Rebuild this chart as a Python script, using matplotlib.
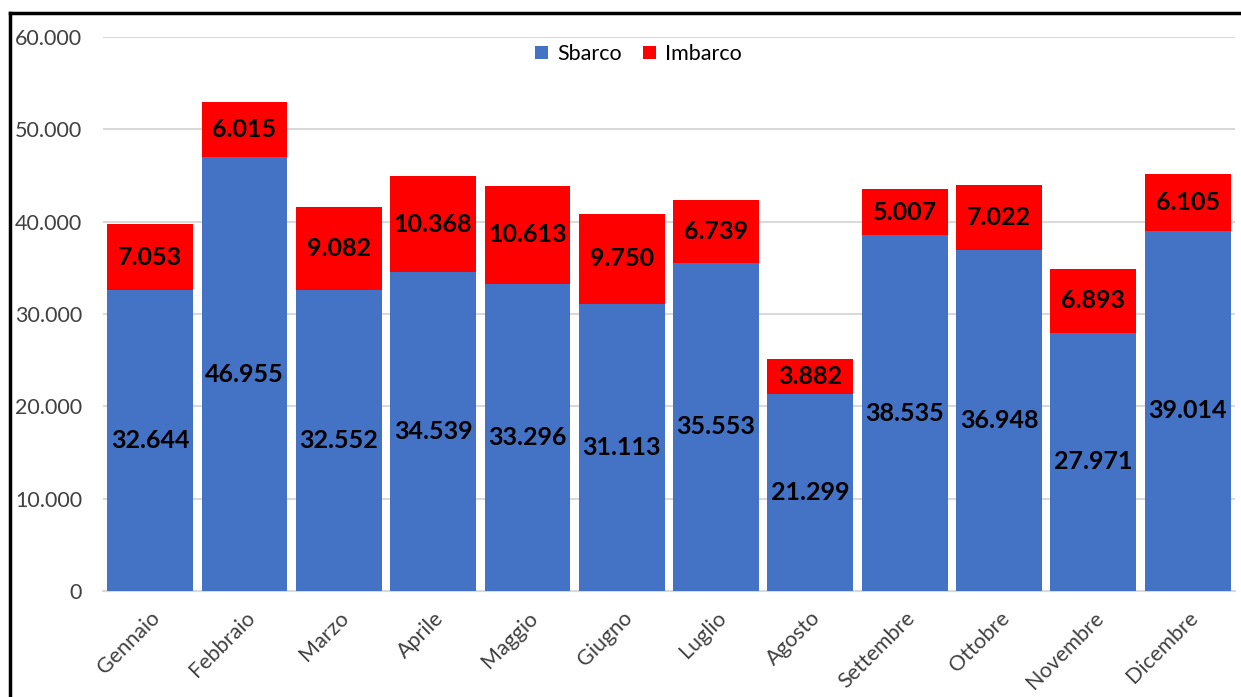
import matplotlib.pyplot as plt
from matplotlib.lines import Line2D

# dati mensili
mesi = ["Gennaio", "Febbraio", "Marzo", "Aprile", "Maggio", "Giugno",
        "Luglio", "Agosto", "Settembre", "Ottobre", "Novembre", "Dicembre"]
sbarco = [32644, 46955, 32552, 34539, 33296, 31113, 35553, 21299, 38535, 36948, 27971, 39014]
imbarco = [7053, 6015, 9082, 10368, 10613, 9750, 6739, 3882, 5007, 7022, 6893, 6105]
yticks = [0, 10000, 20000, 30000, 40000, 50000, 60000]


def fmt(v):
    return f"{v:,}".replace(",", ".")


plt.rcParams['font.family'] = ['Lato', 'DejaVu Sans']

fig = plt.figure(figsize=(12.41, 6.97), dpi=100)
ax = fig.add_axes([0.083, 0.152, 0.912, 0.795])

x = range(len(mesi))
b1 = ax.bar(x, sbarco, width=0.91, color='#4472C4', label='Sbarco', zorder=3)
b2 = ax.bar(x, imbarco, width=0.91, bottom=sbarco, color='#FF0000', label='Imbarco', zorder=3)

for i in x:
    ax.text(i, sbarco[i] / 2, fmt(sbarco[i]), ha='center', va='center',
            fontsize=18, fontweight='bold', color='black', zorder=4)
    ax.text(i, sbarco[i] + imbarco[i] / 2, fmt(imbarco[i]), ha='center', va='center',
            fontsize=18, fontweight='bold', color='black', zorder=4)

ax.set_xlim(-0.5, len(mesi) - 0.5)
ax.set_ylim(0, 60000)
ax.set_yticks(yticks)
ax.set_yticklabels([fmt(v) for v in yticks], fontsize=15.5, color='#404040')
ax.set_xticks(list(x))
ax.set_xticklabels(mesi, rotation=45, ha='right', rotation_mode='anchor',
                   fontsize=15.5, color='#404040')
ax.tick_params(axis='both', length=0)
ax.tick_params(axis='y', pad=15)
ax.tick_params(axis='x', pad=12)

ax.grid(axis='y', color='#D9D9D9', linewidth=1.5, zorder=0)
for s in ['top', 'right', 'left']:
    ax.spines[s].set_visible(False)
ax.spines['bottom'].set_color('#D9D9D9')
ax.spines['bottom'].set_linewidth(1.5)

ax.legend(loc='upper center', bbox_to_anchor=(0.473, 1.022), ncol=2, frameon=False,
          fontsize=15.5, handlelength=0.6, handleheight=0.6, handletextpad=0.4,
          columnspacing=1.0)

# bordo nero in alto e a sinistra
fig.add_artist(Line2D([10 / 1241, 10 / 1241], [0, 1 - 13 / 697], transform=fig.transFigure,
                      color='black', linewidth=2.5))
fig.add_artist(Line2D([10 / 1241, 1], [1 - 13 / 697, 1 - 13 / 697], transform=fig.transFigure,
                      color='black', linewidth=2.5))

fig.savefig('out.png', dpi=100)
